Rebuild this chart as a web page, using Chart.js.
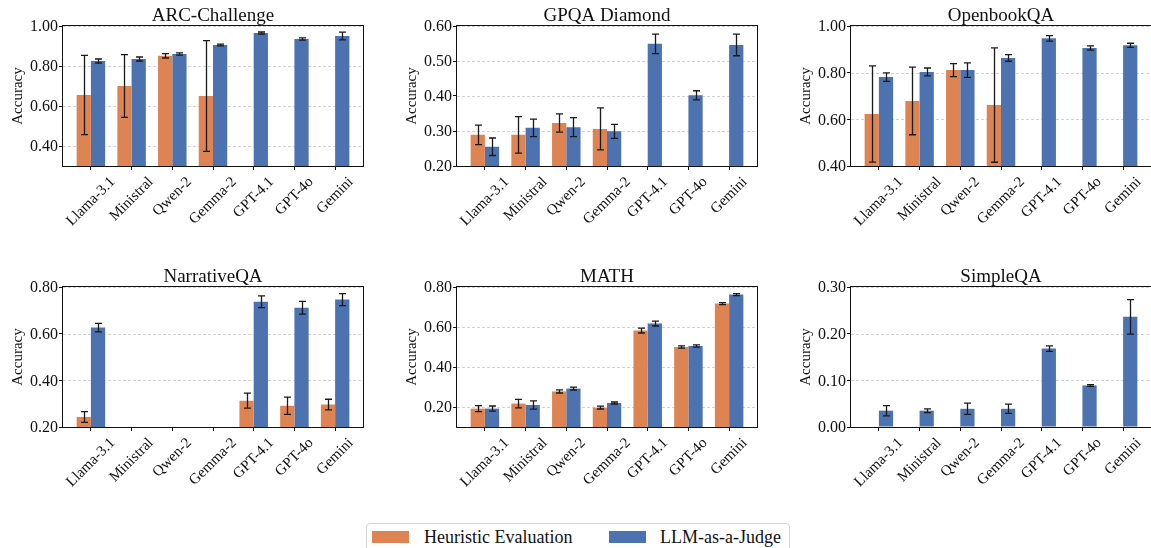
<!DOCTYPE html>
<html>
<head>
<meta charset="utf-8">
<script src="https://cdn.jsdelivr.net/npm/chart.js@4.4.1/dist/chart.umd.min.js"></script>
<style>
  html, body { margin: 0; padding: 0; background: #fff; overflow: hidden; width: 1151px; height: 548px; }
  .panel { position: absolute; }
  #legend { position: absolute; left: 366px; top: 523px; width: 422px; height: 40px;
            border: 1px solid #d6d6d6; border-radius: 4px; background: #fff;
            font-family: 'Liberation Serif', 'Times New Roman', serif; font-size: 18px; color: #111; }
  #legend .sw { position: absolute; top: 7px; width: 37px; height: 12px; }
  #legend .tx { position: absolute; top: 4px; line-height: 18px; white-space: nowrap; }
</style>
</head>
<body>
<div class="panel" style="left:0px;top:0px"><canvas id="c0" width="371" height="246"></canvas></div>
<div class="panel" style="left:394px;top:0px"><canvas id="c1" width="371" height="246"></canvas></div>
<div class="panel" style="left:788px;top:0px"><canvas id="c2" width="371" height="246"></canvas></div>
<div class="panel" style="left:0px;top:261px"><canvas id="c3" width="371" height="246"></canvas></div>
<div class="panel" style="left:394px;top:261px"><canvas id="c4" width="371" height="246"></canvas></div>
<div class="panel" style="left:788px;top:261px"><canvas id="c5" width="371" height="246"></canvas></div>

<div id="legend">
  <div class="sw" style="left:5px;background:#DD8452"></div>
  <span class="tx" style="left:57px">Heuristic Evaluation</span>
  <div class="sw" style="left:242px;background:#4C72B0"></div>
  <span class="tx" style="left:293px">LLM-as-a-Judge</span>
</div>

<script>
const models = ['Llama-3.1', 'Ministral', 'Qwen-2', 'Gemma-2', 'GPT-4.1', 'GPT-4o', 'Gemini'];

// ARC-Challenge
const arcHeur     = [0.655, 0.700, 0.851, 0.650, null, null, null];
const arcHeurErr  = [0.198, 0.157, 0.011, 0.277, null, null, null];
const arcJudge    = [0.825, 0.835, 0.860, 0.905, 0.965, 0.935, 0.950];
const arcJudgeErr = [0.010, 0.010, 0.006, 0.004, 0.005, 0.006, 0.019];
const arcTicks    = [0.4, 0.6, 0.8, 1.0];

// GPQA Diamond
const gpqaHeur     = [0.289, 0.289, 0.323, 0.306, null, null, null];
const gpqaHeurErr  = [0.028, 0.052, 0.026, 0.060, null, null, null];
const gpqaJudge    = [0.255, 0.309, 0.311, 0.299, 0.549, 0.402, 0.546];
const gpqaJudgeErr = [0.025, 0.025, 0.027, 0.020, 0.028, 0.013, 0.031];
const gpqaTicks    = [0.2, 0.3, 0.4, 0.5, 0.6];

// OpenbookQA
const obqaHeur     = [0.623, 0.679, 0.811, 0.661, null, null, null];
const obqaHeurErr  = [0.206, 0.145, 0.028, 0.245, null, null, null];
const obqaJudge    = [0.781, 0.803, 0.811, 0.863, 0.947, 0.906, 0.917];
const obqaJudgeErr = [0.018, 0.017, 0.031, 0.014, 0.012, 0.009, 0.009];
const obqaTicks    = [0.4, 0.6, 0.8, 1.0];

// NarrativeQA
const narHeur     = [0.243, null, null, null, 0.313, 0.291, 0.296];
const narHeurErr  = [0.023, null, null, null, 0.032, 0.037, 0.023];
const narJudge    = [0.626, null, null, null, 0.737, 0.711, 0.746];
const narJudgeErr = [0.018, null, null, null, 0.025, 0.027, 0.026];
const narTicks    = [0.2, 0.4, 0.6, 0.8];

// MATH
const mathHeur     = [0.192, 0.217, 0.278, 0.197, 0.582, 0.500, 0.717];
const mathHeurErr  = [0.015, 0.021, 0.008, 0.007, 0.012, 0.006, 0.005];
const mathJudge    = [0.192, 0.210, 0.292, 0.220, 0.617, 0.505, 0.762];
const mathJudgeErr = [0.013, 0.021, 0.007, 0.005, 0.012, 0.006, 0.005];
const mathTicks    = [0.2, 0.4, 0.6, 0.8];

// SimpleQA
const sqHeur     = [null, null, null, null, null, null, null];
const sqHeurErr  = [null, null, null, null, null, null, null];
const sqJudge    = [0.035, 0.035, 0.039, 0.039, 0.168, 0.089, 0.236];
const sqJudgeErr = [0.011, 0.004, 0.012, 0.010, 0.006, 0.002, 0.037];
const sqTicks    = [0.0, 0.1, 0.2, 0.3];

const panels = [
  { title: 'ARC-Challenge', heur: arcHeur,  heurErr: arcHeurErr,  judge: arcJudge,  judgeErr: arcJudgeErr,  min: 0.3, max: 1.0, ticks: arcTicks },
  { title: 'GPQA Diamond',  heur: gpqaHeur, heurErr: gpqaHeurErr, judge: gpqaJudge, judgeErr: gpqaJudgeErr, min: 0.2, max: 0.6, ticks: gpqaTicks },
  { title: 'OpenbookQA',    heur: obqaHeur, heurErr: obqaHeurErr, judge: obqaJudge, judgeErr: obqaJudgeErr, min: 0.4, max: 1.0, ticks: obqaTicks },
  { title: 'NarrativeQA',   heur: narHeur,  heurErr: narHeurErr,  judge: narJudge,  judgeErr: narJudgeErr,  min: 0.2, max: 0.8, ticks: narTicks },
  { title: 'MATH',          heur: mathHeur, heurErr: mathHeurErr, judge: mathJudge, judgeErr: mathJudgeErr, min: 0.1, max: 0.8, ticks: mathTicks },
  { title: 'SimpleQA',      heur: sqHeur,   heurErr: sqHeurErr,   judge: sqJudge,   judgeErr: sqJudgeErr,   min: 0.0, max: 0.3, ticks: sqTicks }
];

const SERIF = "'Liberation Serif', 'Times New Roman', serif";
Chart.defaults.font.family = SERIF;
Chart.defaults.color = '#111';

// grid, error bars, frame, title and axis labels (matplotlib look)
const panelDecor = {
  id: 'panelDecor',
  beforeDatasetsDraw(chart) {
    const { ctx, chartArea: a, scales: { y } } = chart;
    ctx.save();
    ctx.strokeStyle = '#c8c8c8';
    ctx.lineWidth = 0.8;
    ctx.setLineDash([3, 2]);
    y.ticks.forEach(t => {
      const py = Math.round(y.getPixelForValue(t.value)) + 0.5;
      ctx.beginPath();
      ctx.moveTo(a.left, py);
      ctx.lineTo(a.right, py);
      ctx.stroke();
    });
    ctx.restore();
  },
  afterDatasetsDraw(chart, args, opts) {
    const { ctx, chartArea: a, scales: { x, y } } = chart;
    ctx.save();

    // error bars
    ctx.strokeStyle = '#1a1a1a';
    ctx.lineWidth = 1.3;
    chart.data.datasets.forEach((ds, di) => {
      const meta = chart.getDatasetMeta(di);
      ds.errors.forEach((e, i) => {
        const v = ds.data[i].y;
        if (v == null || e == null) return;
        const bx = Math.round(meta.data[i].x) + 0.5;
        const y1 = y.getPixelForValue(v + e);
        const y2 = y.getPixelForValue(v - e);
        ctx.beginPath();
        ctx.moveTo(bx, y1); ctx.lineTo(bx, y2);
        ctx.moveTo(bx - 3.5, y1); ctx.lineTo(bx + 3.5, y1);
        ctx.moveTo(bx - 3.5, y2); ctx.lineTo(bx + 3.5, y2);
        ctx.stroke();
      });
    });

    // frame
    ctx.strokeStyle = '#111';
    ctx.lineWidth = 1;
    ctx.strokeRect(Math.round(a.left) - 0.5, Math.round(a.top) - 0.5, Math.round(a.width) + 1, Math.round(a.height) + 1);

    // title
    ctx.fillStyle = '#111';
    ctx.font = '19px ' + SERIF;
    ctx.textAlign = 'center';
    ctx.textBaseline = 'alphabetic';
    ctx.fillText(opts.title, (a.left + a.right) / 2, a.top - 5.5);

    // y tick labels
    ctx.font = '16px ' + SERIF;
    ctx.textAlign = 'right';
    ctx.textBaseline = 'middle';
    y.ticks.forEach(t => {
      ctx.fillText(t.value.toFixed(2), a.left - 5, y.getPixelForValue(t.value) + 1);
    });

    // y axis title
    ctx.save();
    ctx.font = '15px ' + SERIF;
    ctx.textAlign = 'center';
    ctx.translate(a.left - 45, (a.top + a.bottom) / 2);
    ctx.rotate(-Math.PI / 2);
    ctx.fillText('Accuracy', 0, 0);
    ctx.restore();

    // x labels, rotated 45deg, bbox centred on the tick
    ctx.font = '15px ' + SERIF;
    ctx.textAlign = 'center';
    ctx.textBaseline = 'middle';
    models.forEach((m, i) => {
      const px = x.getPixelForValue(i);
      const w = ctx.measureText(m).width;
      const half = (w + 16) * Math.SQRT1_2 / 2;
      ctx.save();
      ctx.translate(px, a.bottom + 8 + half);
      ctx.rotate(-Math.PI / 4);
      ctx.fillText(m, 0, 0);
      ctx.restore();
    });
    ctx.restore();
  }
};

panels.forEach((p, k) => {
  new Chart(document.getElementById('c' + k), {
    type: 'bar',
    data: {
      datasets: [
        { label: 'Heuristic Evaluation', data: p.heur.map((v, i) => ({ x: i, y: v })), errors: p.heurErr, backgroundColor: '#DD8452' },
        { label: 'LLM-as-a-Judge', data: p.judge.map((v, i) => ({ x: i, y: v })), errors: p.judgeErr, backgroundColor: '#4C72B0' }
      ]
    },
    options: {
      responsive: false,
      animation: false,
      events: [],
      layout: { padding: { top: 26, right: 8, left: 0, bottom: 0 } },
      datasets: { bar: { categoryPercentage: 0.7, barPercentage: 1.0, borderWidth: 0 } },
      plugins: {
        legend: { display: false },
        tooltip: { enabled: false },
        panelDecor: { title: p.title }
      },
      scales: {
        x: {
          type: 'linear',
          offset: false,
          min: -0.685,
          max: 6.685,
          afterBuildTicks: s => { s.ticks = models.map((m, i) => ({ value: i })); },
          afterFit: s => { s.height = 80; },
          ticks: { display: false },
          grid: { offset: false, drawOnChartArea: false, tickLength: 4, color: '#111' },
          border: { display: false }
        },
        y: {
          min: p.min,
          max: p.max,
          afterBuildTicks: s => { s.ticks = p.ticks.map(v => ({ value: v })); },
          afterFit: s => { s.width = 63; },
          ticks: { display: false },
          grid: { drawOnChartArea: false, tickLength: 4, color: '#111' },
          border: { display: false }
        }
      }
    },
    plugins: [panelDecor]
  });
});
</script>
</body>
</html>
